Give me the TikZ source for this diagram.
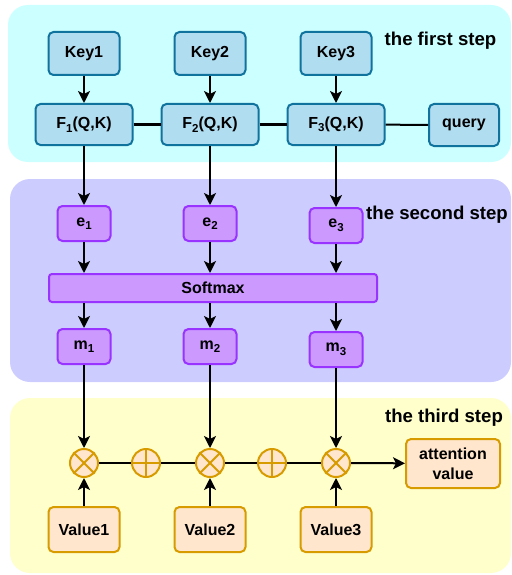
\documentclass[tikz,border=0pt]{standalone}
\usepackage{fontspec}
\setmainfont{Liberation Sans}
\usetikzlibrary{arrows.meta}
\definecolor{cyanbg}{HTML}{CCFFFF}
\definecolor{purplebg}{HTML}{CCCCFF}
\definecolor{yellowbg}{HTML}{FFFFCC}
\definecolor{bluefill}{HTML}{B1DDF0}
\definecolor{bluedraw}{HTML}{10739E}
\definecolor{violetfill}{HTML}{CC99FF}
\definecolor{violetdraw}{HTML}{9933FF}
\definecolor{orangefill}{HTML}{FFE6CC}
\definecolor{orangedraw}{HTML}{D79B00}
\newcommand{\lowsub}[1]{\raisebox{-3.5pt}{\fontsize{11.5}{12}\selectfont #1}}
\tikzset{
  panel/.style={rounded corners=20pt, draw=none},
  basebox/.style={rounded corners=5pt, line width=2pt, inner sep=0pt, align=center,
    font=\fontsize{16}{19}\selectfont\bfseries},
  bluebox/.style={basebox, fill=bluefill, draw=bluedraw, minimum width=71pt, minimum height=43pt},
  fbox/.style={basebox, fill=bluefill, draw=bluedraw, minimum width=97pt, minimum height=41pt},
  querybox/.style={basebox, fill=bluefill, draw=bluedraw, minimum width=70pt, minimum height=42pt},
  vbox/.style={basebox, fill=violetfill, draw=violetdraw, minimum width=53pt, minimum height=35pt},
  smbox/.style={basebox, fill=violetfill, draw=violetdraw, rounded corners=3pt, minimum width=328pt, minimum height=28pt},
  obox/.style={basebox, fill=orangefill, draw=orangedraw, minimum width=71pt, minimum height=45pt},
  attbox/.style={basebox, fill=orangefill, draw=orangedraw, minimum width=94pt, minimum height=49pt, font=\fontsize{16}{20}\selectfont\bfseries},
  opcirc/.style={circle, fill=orangefill, draw=orangedraw, line width=2pt, minimum size=28pt, inner sep=0pt},
  steplabel/.style={font=\fontsize{18.6}{22}\selectfont\bfseries, inner sep=0pt},
  conn/.style={line width=2pt, black},
  arr/.style={conn, -{Stealth[length=12pt,width=12pt,inset=3pt]}},
}
\begin{document}
\begin{tikzpicture}[x=1pt,y=-1pt]
\useasboundingbox (0,0) rectangle (511,575);
% panels
\fill[cyanbg, panel] (8,5) rectangle (511,162);
\fill[purplebg, panel] (10,179) rectangle (511,382);
\fill[yellowbg, panel] (10,398) rectangle (511,573);
% labels
\node[steplabel] (l1) at (440.5,41) {the first step};
\node[steplabel, anchor=west] (l2) at (366,215) {the second step};
\node[steplabel] (l3) at (444,418) {the third step};
% step 1
\node[bluebox] (k1) at (84,53.5) {Key1};
\node[bluebox] (k2) at (210,53.5) {Key2};
\node[bluebox] (k3) at (336,53.5) {Key3};
\node[fbox] (f1) at (84,124.5) {F\lowsub{1}(Q,K)};
\node[fbox] (f2) at (210,124.5) {F\lowsub{2}(Q,K)};
\node[fbox] (f3) at (336,124.5) {F\lowsub{3}(Q,K)};
\node[querybox] (q) at (464,125) {query};
% step 2
\node[vbox] (e1) at (84,223.5) {e\lowsub{1}};
\node[vbox] (e2) at (210,223.5) {e\lowsub{2}};
\node[vbox] (e3) at (336,225.5) {e\lowsub{3}};
\node[smbox] (sm) at (213,288) {Softmax};
\node[vbox] (m1) at (84,346.5) {m\lowsub{1}};
\node[vbox] (m2) at (210,346.5) {m\lowsub{2}};
\node[vbox] (m3) at (336,349.5) {m\lowsub{3}};
% step 3
\node[opcirc] (x1) at (84,463) {};
\node[opcirc] (p1) at (146,463) {};
\node[opcirc] (x2) at (210,463) {};
\node[opcirc] (p2) at (272,463) {};
\node[opcirc] (x3) at (336,463) {};
\foreach \n in {x1,x2,x3}{
  \draw[orangedraw, line width=2pt] (\n.north east) -- (\n.south west) (\n.north west) -- (\n.south east);
}
\foreach \n in {p1,p2}{
  \draw[orangedraw, line width=2pt] (\n.north) -- (\n.south) (\n.west) -- (\n.east);
}
\node[attbox] (att) at (453,463.5) {attention\\value};
\node[obox] (v1) at (84,529.5) {Value1};
\node[obox] (v2) at (210,529.5) {Value2};
\node[obox] (v3) at (336,529.5) {Value3};
% connectors
\foreach \i in {1,2,3}{
  \draw[arr] (k\i) -- (f\i);
  \draw[arr] (f\i) -- (e\i);
  \draw[arr] (e\i) -- (e\i |- sm.north);
  \draw[arr] (m\i |- sm.south) -- (m\i);
  \draw[arr] (m\i) -- (x\i);
  \draw[arr] (v\i) -- (x\i);
}
\draw[conn] (f1) -- (f2);
\draw[conn] (f2) -- (f3);
\draw[conn] (f3) -- (q);
\draw[conn] (x1) -- (p1);
\draw[conn] (p1) -- (x2);
\draw[conn] (x2) -- (p2);
\draw[conn] (p2) -- (x3);
\draw[arr] (x3) -- (att);
\end{tikzpicture}
\end{document}
